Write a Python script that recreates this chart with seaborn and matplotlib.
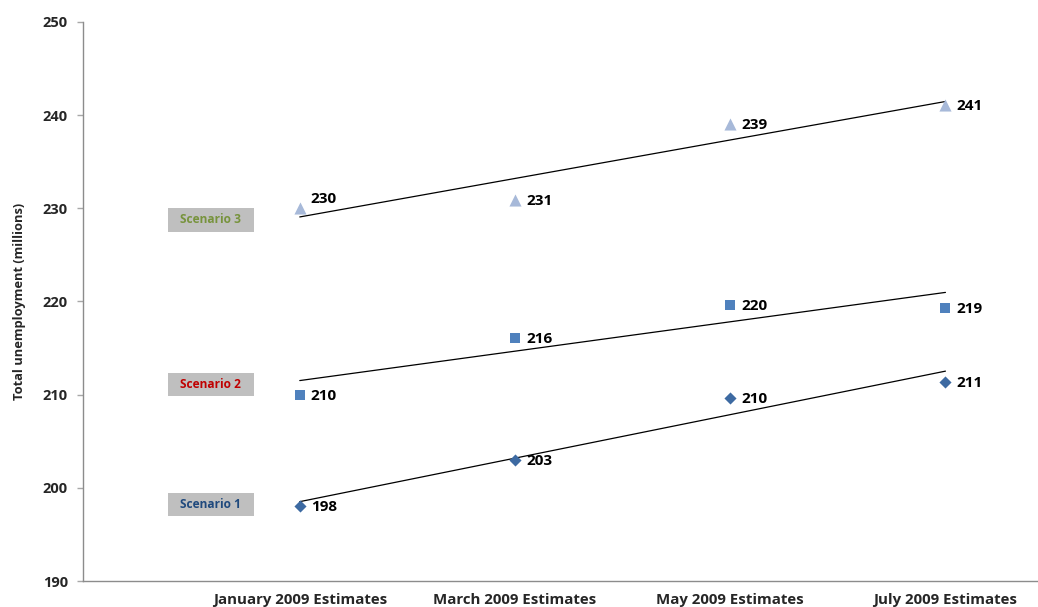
import numpy as np
import pandas as pd
import matplotlib
matplotlib.use("Agg")
import matplotlib.pyplot as plt
from matplotlib.patches import Rectangle
import seaborn as sns

categories = ["January 2009 Estimates", "March 2009 Estimates",
              "May 2009 Estimates", "July 2009 Estimates"]
scenario1 = [198.05, 203.0, 209.64, 211.4]
scenario2 = [209.97, 216.08, 219.63, 219.3]
scenario3 = [230.04, 230.9, 239.05, 241.09]
series_names = ["Scenario 1", "Scenario 2", "Scenario 3"]
series_values = [scenario1, scenario2, scenario3]
series_colors = ["#3D6AA2", "#4F81BD", "#A7B9D9"]
series_markers = ["D", "s", "^"]
series_sizes = [38, 62, 76]
label_text_colors = ["#1F497D", "#C00000", "#77933C"]
label_y = [198.2, 211.1, 228.75]
y_ticks = [190, 200, 210, 220, 230, 240, 250]
# data-label vertical nudges (points), keyed by (series, category index)
label_nudge = {("Scenario 3", 0): 6.5}

sns.set_theme(style="white")
plt.rcParams['font.family'] = ['Open Sans', 'DejaVu Sans']

rows = []
for name, vals in zip(series_names, series_values):
    for i, v in enumerate(vals):
        rows.append({"x": i, "value": v, "series": name})
df = pd.DataFrame(rows)

fig = plt.figure(figsize=(10.38, 6.07), dpi=100)
ax = fig.add_axes([0.080, 0.0428, 0.92, 0.921])

for name, color, mk, sz in zip(series_names, series_colors, series_markers, series_sizes):
    sub = df[df["series"] == name]
    sns.regplot(data=sub, x="x", y="value", scatter=False, ci=None, truncate=True,
                line_kws=dict(color="black", lw=0.9), ax=ax)
    sns.scatterplot(data=sub, x="x", y="value", marker=mk, s=sz, color=color,
                    edgecolor=color, linewidth=0, ax=ax, legend=False, zorder=3)
    for _, r in sub.iterrows():
        dy = label_nudge.get((name, int(r["x"])), -0.8)
        ax.annotate(f"{int(round(r['value']))}", (r["x"], r["value"]),
                    xytext=(8, dy), textcoords="offset points", ha="left", va="center",
                    fontsize=11, fontweight="bold", color="black")

# scenario label boxes
box_w, box_h, box_cx = 0.40, 2.5, -0.413
for name, ly, tc in zip(series_names, label_y, label_text_colors):
    ax.add_patch(Rectangle((box_cx - box_w / 2, ly - box_h / 2), box_w, box_h,
                           facecolor="#BFBFBF", edgecolor="none", zorder=2))
    ax.text(box_cx, ly, name, ha="center", va="center", fontsize=8.6, fontweight="bold",
            color=tc, zorder=3)

ax.set_xlim(-1.007, 3.43)
ax.set_ylim(190, 250)
ax.set_yticks(y_ticks)
ax.set_yticklabels([str(t) for t in y_ticks], fontsize=10.5, fontweight="bold")
ax.set_xticks(range(len(categories)))
ax.set_xticklabels(categories, fontsize=10.8, fontweight="bold")
ax.tick_params(axis="x", length=0, pad=8.5)
ax.tick_params(axis="y", length=4, width=1, color="#A8A8A8", left=True, pad=7)
ax.set_xlabel("")
ax.set_ylabel("Total unemployment (millions)", fontsize=9.3, fontweight="bold", labelpad=12)
for s in ["top", "right"]:
    ax.spines[s].set_visible(False)
for s in ["left", "bottom"]:
    ax.spines[s].set_color("#8C8C8C")
    ax.spines[s].set_linewidth(1)

fig.savefig("out.png", dpi=100)
